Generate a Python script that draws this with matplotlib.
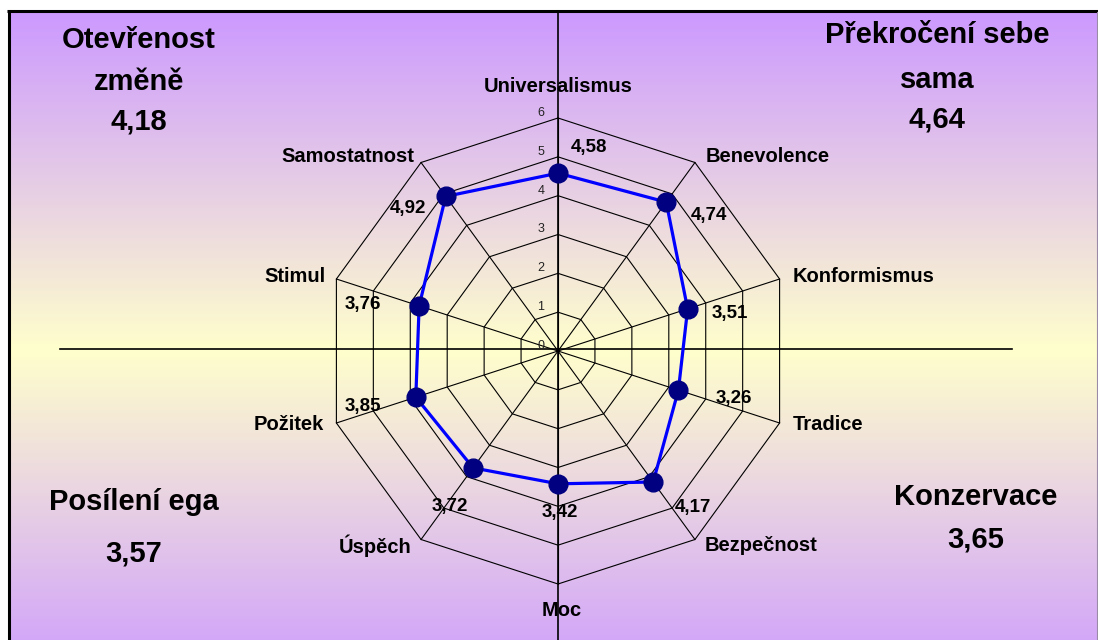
import numpy as np
import matplotlib.pyplot as plt

# hodnoty z obrazku
categories = ["Universalismus", "Benevolence", "Konformismus", "Tradice", "Bezpečnost",
              "Moc", "Úspěch", "Požitek", "Stimul", "Samostatnost"]
values = [4.58, 4.74, 3.51, 3.26, 4.17, 3.42, 3.72, 3.85, 3.76, 4.92]
ticks = [0, 1, 2, 3, 4, 5, 6]
group_names = [["Otevřenost", "změně"], ["Překročení sebe", "sama"],
               ["Posílení ega"], ["Konzervace"]]
group_values = ["4,18", "4,64", "3,57", "3,65"]

W, H = 1098, 640
cx, cy = 558, 351
unit = 233 / 6.0

plt.rcParams['font.family'] = ['Liberation Sans', 'DejaVu Sans']

fig = plt.figure(figsize=(W / 100, H / 100), dpi=100)

# pozadi s prechodem
bg = fig.add_axes([0, 0, 1, 1])
bg.set_xlim(0, W)
bg.set_ylim(H, 0)
bg.axis('off')
purple = np.array([204, 153, 255]) / 255.0
yellow = np.array([255, 255, 204]) / 255.0
yy = np.arange(12, H)
t = np.clip(np.abs(yy - 350) / 338.0, 0, 1)
grad = yellow[None, :] + t[:, None] * (purple - yellow)[None, :]
bg.imshow(grad[:, None, :], extent=(10, W, H, 12), aspect='auto', interpolation='bilinear')
bg.plot([8.5, 8.5], [10, H], color='black', lw=2.2, solid_capstyle='butt')
bg.plot([7, W], [10.5, 10.5], color='black', lw=2.2, solid_capstyle='butt')
bg.plot([W - 1.5, W - 1.5], [12, H], color='#9a8aa8', lw=0.8)

# radar
ax = fig.add_axes([0, 0, 1, 1])
ax.set_xlim(-cx / unit, (W - cx) / unit)
ax.set_ylim(-(H - cy) / unit, cy / unit)
ax.axis('off')
ax.patch.set_alpha(0)

n = len(categories)
theta = 2 * np.pi * np.arange(n) / n
sx, sy = np.sin(theta), np.cos(theta)

for r in ticks[1:]:
    ax.plot(np.append(sx, sx[0]) * r, np.append(sy, sy[0]) * r, color='black', lw=0.8, zorder=1)
for i in range(n):
    ax.plot([0, sx[i] * ticks[-1]], [0, sy[i] * ticks[-1]], color='black', lw=0.8, zorder=1)

ax.axhline(2 / unit, xmin=60 / W, xmax=1012 / W, color='black', lw=1.2, zorder=2)
ax.axvline(0, ymin=0, ymax=(H - 12) / H, color='black', lw=1.2, zorder=2)

for tk in ticks:
    ax.text(-17 / unit, tk + 5 / unit, str(tk), ha='center', va='center', fontsize=9, color='#222222')

vals = np.array(values)
px, py = vals * sx, vals * sy
ax.plot(np.append(px, px[0]), np.append(py, py[0]), color='#0000ff', lw=2.3, zorder=3)
ax.plot(px, py, 'o', ms=13.5, color='#000080', zorder=4)

# popisky hodnot (posun v pixelech)
val_off = [(31, 26), (43, -13), (42, -5), (55, -8), (40, -25),
           (2, -29), (-23, -39), (-53, -9), (-56, 1), (-38, -12)]
for i, v in enumerate(values):
    ax.annotate(f"{v:.2f}".replace('.', ','), (px[i], py[i]), xytext=val_off[i],
                textcoords='offset pixels', ha='center', va='center',
                fontsize=13.5, fontweight='bold', zorder=5)

# popisky os
cat_off = [(0, 31, 'center'), (11, 6, 'left'), (13, 2, 'left'), (13, -1, 'left'),
           (10, -6, 'left'), (4, -27, 'center'), (-10, -6, 'right'), (-13, -1, 'right'),
           (-11, 2, 'right'), (-7, 6, 'right')]
for i, name in enumerate(categories):
    dx, dy, ha = cat_off[i]
    ax.annotate(name, (sx[i] * ticks[-1], sy[i] * ticks[-1]), xytext=(dx, dy),
                textcoords='offset pixels', ha=ha, va='center',
                fontsize=14.5, fontweight='bold', zorder=5)

# ctvrtiny
group_pos = [(139, [48, 90, 130]), (937, [43, 88, 128]),
             (134, [510, 562]), (976, [505, 547])]
for g, (gx, bases) in enumerate(group_pos):
    lines = group_names[g] + [group_values[g]]
    for txt, b in zip(lines, bases):
        fig.text(gx / W, 1 - b / H, txt, ha='center', va='baseline',
                 fontsize=21, fontweight='bold')

fig.savefig('out.png', dpi=100)
